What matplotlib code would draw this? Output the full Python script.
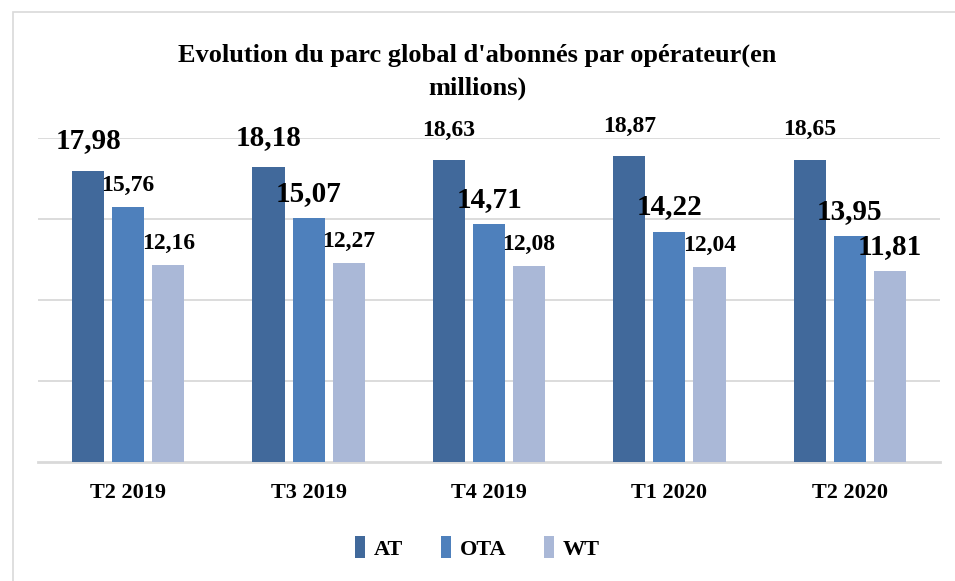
import numpy as np
import matplotlib.pyplot as plt
from matplotlib.patches import Rectangle

periods = ['T2 2019', 'T3 2019', 'T4 2019', 'T1 2020', 'T2 2020']
operators = ['AT', 'OTA', 'WT']
at_vals = [17.98, 18.18, 18.63, 18.87, 18.65]
ota_vals = [15.76, 15.07, 14.71, 14.22, 13.95]
wt_vals = [12.16, 12.27, 12.08, 12.04, 11.81]

colors = ['#41699B', '#4E80BC', '#AAB8D7']
# label size per bar: the source mixes large and narrow labels
label_sizes = [
    [21, 21, 17, 17, 17],
    [17, 21, 21, 21, 21],
    [17, 17, 17, 17, 21],
]

plt.rcParams['font.family'] = ['Liberation Serif', 'DejaVu Serif']
plt.rcParams['font.weight'] = 'bold'

fig = plt.figure(figsize=(9.55, 5.81), dpi=100)
fig.patches.append(Rectangle((13 / 955, -0.01), 1, 1.01 - 12 / 581, transform=fig.transFigure,
                             fill=False, edgecolor='#D9D9D9', linewidth=1.2))

ax = fig.add_axes([38 / 955, 1 - 462 / 581, 902 / 955, (462 - 138) / 581])

x = np.arange(len(periods))
width = 0.178
step = 0.222
series = [at_vals, ota_vals, wt_vals]
for i, (name, vals) in enumerate(zip(operators, series)):
    pos = x + (i - 1) * step
    bars = ax.bar(pos, vals, width, color=colors[i], label=name, zorder=3)
    for j, b in enumerate(bars):
        txt = ('%.2f' % vals[j]).replace('.', ',')
        dy = 8 if i else (12 if label_sizes[i][j] > 17 else 14)
        ax.annotate(txt, (b.get_x() + b.get_width() / 2, b.get_height()),
                    xytext=(0, dy), textcoords='offset points',
                    ha='center', va='bottom', fontsize=label_sizes[i][j],
                    fontweight='bold', annotation_clip=False)

ax.set_xlim(-0.5, len(periods) - 0.5)
ax.set_ylim(0, 20)
ax.set_yticks([5, 10, 15, 20])
ax.yaxis.grid(True, color='#D9D9D9', linewidth=1.3, zorder=0)
ax.tick_params(axis='y', left=False, labelleft=False)
ax.set_xticks(x)
ax.set_xticklabels(periods, fontsize=16, fontweight='bold')
ax.tick_params(axis='x', length=0, pad=15)
for s in ['left', 'right', 'top']:
    ax.spines[s].set_visible(False)
ax.spines['bottom'].set_color('#D9D9D9')
ax.spines['bottom'].set_linewidth(2)

fig.text(0.5, 1 - 55 / 581, "Evolution du parc global d'abonnés par opérateur(en",
         ha='center', va='center', fontsize=19, fontweight='bold')
fig.text(0.5, 1 - 88 / 581, "millions)", ha='center', va='center',
         fontsize=19, fontweight='bold')

fig.legend(loc='center', bbox_to_anchor=(0.5, 1 - 548 / 581), ncol=3, frameon=False,
           handlelength=0.45, handleheight=1.1, columnspacing=1.7,
           handletextpad=0.4, prop={'weight': 'bold', 'size': 16})

fig.savefig('out.png', dpi=100)
